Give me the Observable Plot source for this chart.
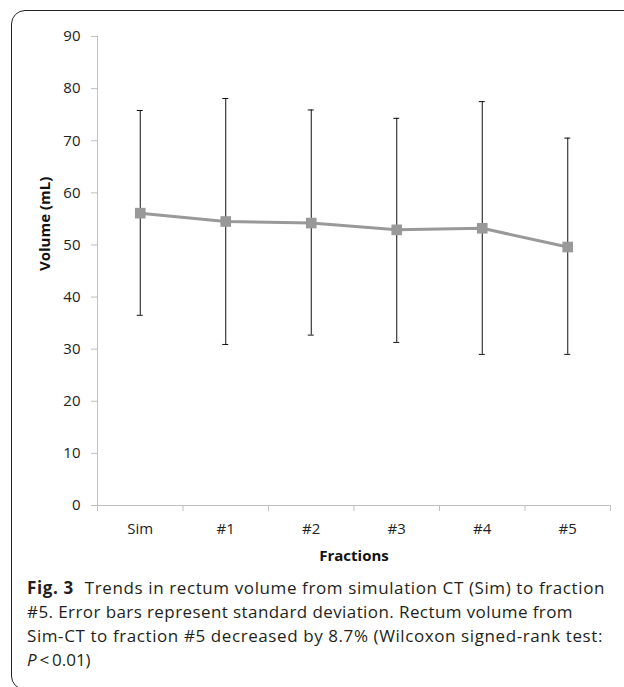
<!DOCTYPE html>
<html>
<head>
<meta charset="utf-8">
<script src="https://cdn.jsdelivr.net/npm/d3@7"></script>
<script src="https://cdn.jsdelivr.net/npm/@observablehq/plot@0.6"></script>
<style>
  html, body { margin: 0; padding: 0; background: #fff; }
  body { width: 624px; height: 687px; position: relative; overflow: hidden; font-family: "Open Sans", sans-serif; }
  #frame { position: absolute; left: 11px; top: 10px; width: 640px; height: 680px;
    border: 1.5px solid #222; border-radius: 14px; box-sizing: border-box; }
  #chart { position: absolute; left: 0; top: 0; }
  #caption { position: absolute; left: 27px; top: 576px; font-size: 17px; line-height: 24px;
    color: #231f20; white-space: nowrap; }
  #caption .ln { display: block; }
  #caption b { font-weight: 700; margin-right: 6px; }
</style>
</head>
<body>
<div id="frame"></div>
<div id="chart"></div>
<div id="caption"><span class="ln" data-w="578"><b>Fig. 3</b> Trends in rectum volume from simulation CT (Sim) to fraction</span><span class="ln" data-w="546">#5. Error bars represent standard deviation. Rectum volume from</span><span class="ln" data-w="576">Sim-CT to fraction #5 decreased by 8.7% (Wilcoxon signed-rank test:</span><span class="ln"><i>P</i>&thinsp;&lt;&thinsp;0.01)</span></div>
<script>
const categories = ["Sim", "#1", "#2", "#3", "#4", "#5"];
const means = [56.1, 54.5, 54.2, 52.9, 53.2, 49.6];
const upper = [75.8, 78.1, 75.9, 74.3, 77.5, 70.5];
const lower = [36.5, 30.9, 32.7, 31.3, 29.0, 29.0];
const yTicks = [0, 10, 20, 30, 40, 50, 60, 70, 80, 90];

const data = categories.map((c, i) => ({
  cat: c, x: i + 0.5, mean: means[i], hi: upper[i], lo: lower[i]
}));
const boundaries = d3.range(categories.length + 1);
const capHalf = 0.035;

const plot = Plot.plot({
  width: 624,
  height: 575,
  marginLeft: 97,
  marginRight: 14,
  marginTop: 36,
  marginBottom: 70,
  style: { fontFamily: "'Open Sans', sans-serif", fontSize: "15px", color: "#222", background: "transparent" },
  x: { domain: [0, categories.length], axis: null },
  y: { domain: [0, 90], axis: null },
  marks: [
    Plot.ruleX([0], { stroke: "#c0c0c0", strokeWidth: 1 }),
    Plot.ruleY([0], { stroke: "#c0c0c0", strokeWidth: 1 }),
    Plot.axisY({ ticks: yTicks, tickSize: 6, tickPadding: 11, stroke: "#c0c0c0", fill: "#222", fontSize: 15, label: null }),
    Plot.ruleX(boundaries, { x: d => d, y1: 0, y2: 0, stroke: "#c0c0c0", insetBottom: -6 }),
    Plot.text(data, { x: "x", y: 0, text: "cat", dy: 24, fill: "#222", fontSize: 15 }),
    Plot.text(["Fractions"], { frameAnchor: "bottom", lineAnchor: "middle", dy: 51, fontWeight: "bold", fontSize: 15, fill: "#111" }),
    Plot.text(["Volume (mL)"], { frameAnchor: "left", rotate: -90, dx: -52, fontWeight: "bold", fontSize: 15, fill: "#111" }),
    Plot.ruleX(data, { x: "x", y1: "lo", y2: "hi", stroke: "#111", strokeWidth: 1 }),
    Plot.ruleY(data, { y: "hi", x1: d => d.x - capHalf, x2: d => d.x + capHalf, stroke: "#111", strokeWidth: 1 }),
    Plot.ruleY(data, { y: "lo", x1: d => d.x - capHalf, x2: d => d.x + capHalf, stroke: "#111", strokeWidth: 1 }),
    Plot.line(data, { x: "x", y: "mean", stroke: "#999", strokeWidth: 3 }),
    Plot.dot(data, { x: "x", y: "mean", symbol: "square", r: 6, fill: "#999", stroke: "none" })
  ]
});
document.getElementById("chart").appendChild(plot);

// fit caption lines to the widths seen in the figure
document.querySelectorAll("#caption .ln[data-w]").forEach(el => {
  el.style.display = "inline-block";
  const natural = el.getBoundingClientRect().width;
  const target = +el.dataset.w;
  const n = el.textContent.length;
  el.style.letterSpacing = ((target - natural) / n) + "px";
  el.style.display = "block";
});
</script>
</body>
</html>
